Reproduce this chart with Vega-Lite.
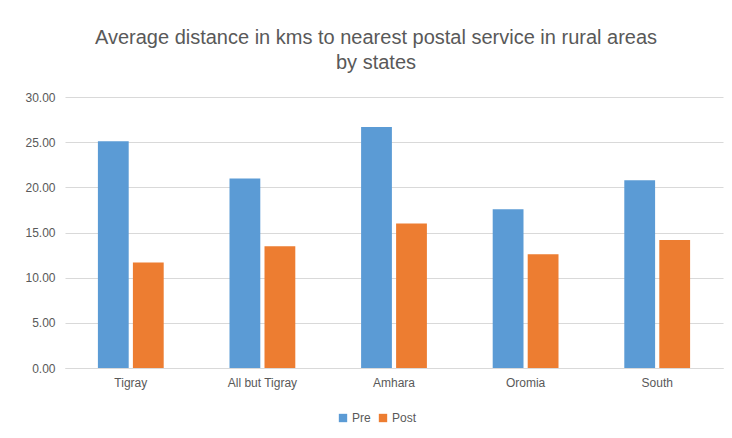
{
  "$schema": "https://vega.github.io/schema/vega-lite/v6.json",
  "autosize": {"type": "none"},
  "width": 658,
  "height": 271,
  "padding": {"left": 65, "top": 97, "right": 9, "bottom": 70},
  "background": "white",
  "title": {
    "text": ["Average distance in kms to nearest postal service in rural areas", "by states"],
    "fontSize": 20,
    "font": "Liberation Sans",
    "fontWeight": "normal",
    "color": "#595959",
    "anchor": "middle",
    "dx": -18,
    "offset": 18,
    "lineHeight": 25
  },
  "data": {
    "values": [
      {"state": "Tigray", "period": "Pre", "km": 25.1},
      {"state": "Tigray", "period": "Post", "km": 11.67},
      {"state": "All but Tigray", "period": "Pre", "km": 20.97},
      {"state": "All but Tigray", "period": "Post", "km": 13.47},
      {"state": "Amhara", "period": "Pre", "km": 26.69},
      {"state": "Amhara", "period": "Post", "km": 15.99},
      {"state": "Oromia", "period": "Pre", "km": 17.57},
      {"state": "Oromia", "period": "Post", "km": 12.59},
      {"state": "South", "period": "Pre", "km": 20.78},
      {"state": "South", "period": "Post", "km": 14.18}
    ]
  },
  "mark": {"type": "bar"},
  "encoding": {
    "x": {
      "field": "state",
      "type": "nominal",
      "sort": null,
      "title": null,
      "scale": {"paddingInner": 0.5, "paddingOuter": 0.25},
      "axis": {
        "labelAngle": 0,
        "ticks": false,
        "domainColor": "#d9d9d9",
        "domainWidth": 1,
        "labelColor": "#595959",
        "labelFont": "Liberation Sans",
        "labelFontSize": 12,
        "labelPadding": 9
      }
    },
    "xOffset": {
      "field": "period",
      "type": "nominal",
      "sort": ["Pre", "Post"],
      "scale": {"paddingInner": 0.12}
    },
    "y": {
      "field": "km",
      "type": "quantitative",
      "title": null,
      "scale": {"domain": [0, 30]},
      "axis": {
        "values": [0, 5, 10, 15, 20, 25, 30],
        "format": ".2f",
        "domain": false,
        "ticks": false,
        "gridColor": "#d9d9d9",
        "labelColor": "#595959",
        "labelFont": "Liberation Sans",
        "labelFontSize": 12,
        "labelPadding": 10
      }
    },
    "color": {
      "field": "period",
      "type": "nominal",
      "sort": ["Pre", "Post"],
      "scale": {"domain": ["Pre", "Post"], "range": ["#5b9bd5", "#ed7d31"]},
      "legend": {
        "title": null,
        "orient": "none",
        "legendX": 272,
        "legendY": 315,
        "direction": "horizontal",
        "symbolType": "square",
        "symbolSize": 70,
        "symbolOffset": 0,
        "labelOffset": 3,
        "labelColor": "#595959",
        "labelFont": "Liberation Sans",
        "labelFontSize": 12,
        "columnPadding": 6
      }
    }
  },
  "config": {"view": {"stroke": null}}
}
